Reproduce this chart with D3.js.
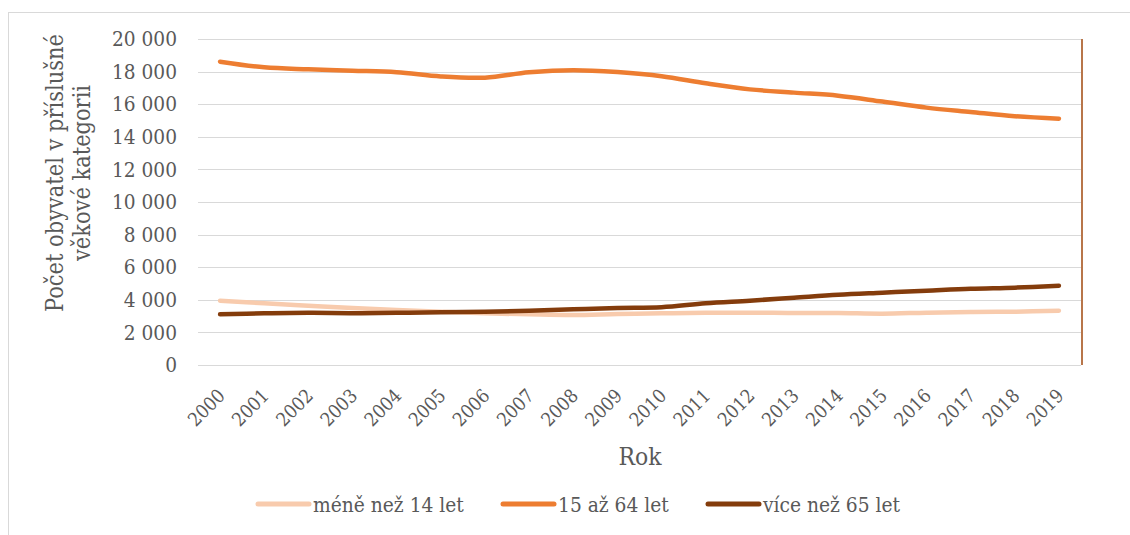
<!DOCTYPE html>
<html>
<head>
<meta charset="utf-8">
<script src="https://cdn.jsdelivr.net/npm/d3@7"></script>
<style>
  body { margin: 0; background: #fff; }
</style>
</head>
<body>
<div id="chart"></div>
<script>
// data
const years = d3.range(2000, 2020).map(String);
const seriesNames = ["méně než 14 let", "15 až 64 let", "více než 65 let"];
const under14 = [3945, 3785, 3640, 3500, 3375, 3270, 3170, 3110, 3070, 3130,
                 3170, 3210, 3210, 3190, 3190, 3150, 3210, 3250, 3270, 3330];
const age15to64 = [18610, 18260, 18140, 18055, 17960, 17700, 17630, 17960, 18090, 17970,
                   17720, 17280, 16910, 16710, 16520, 16160, 15790, 15520, 15260, 15110];
const over65 = [3110, 3170, 3200, 3180, 3200, 3230, 3270, 3330, 3415, 3500,
                3545, 3785, 3945, 4130, 4315, 4440, 4560, 4680, 4745, 4860];
const yTicks = [0, 2000, 4000, 6000, 8000, 10000, 12000, 14000, 16000, 18000, 20000];
const colors = ["#F8CBAD", "#ED7D31", "#843C0C"];

// no Times on the box, so use DejaVu Serif and size it to the reference text widths
const FONT = "'DejaVu Serif Condensed', 'DejaVu Serif', serif";
const TEXT_COLOR = "#595959";

const W = 1130, H = 535;
const margin = { top: 39, right: 49, bottom: 170, left: 198 };
const width = W - margin.left - margin.right;
const height = H - margin.top - margin.bottom;

const root = d3.select("#chart").append("svg")
    .attr("width", W)
    .attr("height", H)
    .style("font-family", FONT);

// font size that gives `sample` the width measured on the reference
function fitSize(sample, target) {
    const t = root.append("text").style("font-size", "20px").text(sample);
    const w = t.node().getComputedTextLength();
    t.remove();
    return (20 * target / w).toFixed(2) + "px";
}
const yTickSize = fitSize("20 000", 65);
const xTickSize = fitSize("2000", 43);
const titleSize = fitSize("Počet obyvatel v příslušné", 278);
const rokSize = fitSize("Rok", 43);
const legendSize = fitSize("méně než 14 let", 151);

// outer chart border
root.append("rect")
    .attr("x", 8.5).attr("y", 12.5)
    .attr("width", W + 20).attr("height", H + 20)
    .attr("fill", "none")
    .attr("stroke", "#d9d9d9");

const svg = root.append("g")
    .attr("transform", `translate(${margin.left},${margin.top})`);

const x = d3.scalePoint().domain(years).range([0, width]).padding(0.5);
const y = d3.scaleLinear().domain([0, 20000]).range([height, 0]);

const fmt = v => d3.format(",")(v).replace(/,/g, " ");

// gridlines
svg.append("g")
    .selectAll("line")
    .data(yTicks)
    .join("line")
    .attr("x1", 0).attr("x2", width)
    .attr("y1", d => Math.round(y(d)) + 0.5)
    .attr("y2", d => Math.round(y(d)) + 0.5)
    .attr("stroke", "#d9d9d9")
    .attr("stroke-width", 1);

// y axis
const yAxis = svg.append("g")
    .call(d3.axisLeft(y).tickValues(yTicks).tickFormat(fmt).tickSize(0).tickPadding(21));
yAxis.select(".domain").remove();
yAxis.attr("font-family", null);
yAxis.selectAll("text").attr("fill", TEXT_COLOR).style("font-size", yTickSize);

// x axis
const xAxis = svg.append("g")
    .attr("transform", `translate(0,${height})`)
    .call(d3.axisBottom(x).tickSize(0));
xAxis.select(".domain").remove();
xAxis.attr("font-family", null);
xAxis.selectAll("text")
    .attr("fill", TEXT_COLOR)
    .style("font-size", xTickSize)
    .attr("text-anchor", "end")
    .attr("dy", 0)
    .attr("y", 0)
    .attr("x", 0)
    .attr("transform", "translate(5.5,32) rotate(-45)");

// right-side vertical axis line
svg.append("line")
    .attr("x1", width + 1).attr("x2", width + 1)
    .attr("y1", 0).attr("y2", height)
    .attr("stroke", "#A0480E")
    .attr("stroke-width", 1.5);

// lines
const line = d3.line()
    .x((d, i) => x(years[i]))
    .y(d => y(d))
    .curve(d3.curveCatmullRom);

[under14, age15to64, over65].forEach((s, i) => {
    svg.append("path")
        .datum(s)
        .attr("fill", "none")
        .attr("stroke", colors[i])
        .attr("stroke-width", 4.5)
        .attr("stroke-linecap", "round")
        .attr("stroke-linejoin", "round")
        .attr("d", line);
});

// axis titles
root.append("text")
    .attr("x", 640).attr("y", 465)
    .attr("text-anchor", "middle")
    .attr("fill", TEXT_COLOR)
    .style("font-size", rokSize)
    .text("Rok");

const yTitle = root.append("text")
    .attr("transform", "translate(63,173) rotate(-90)")
    .attr("text-anchor", "middle")
    .attr("fill", TEXT_COLOR)
    .style("font-size", titleSize);
yTitle.append("tspan").attr("x", 0).attr("y", 0).text("Počet obyvatel v příslušné");
yTitle.append("tspan").attr("x", 0).attr("y", 27).text("věkové kategorii");

// legend
const legendX = [256, 501, 706];
const legend = root.append("g");
seriesNames.forEach((name, i) => {
    const g = legend.append("g").attr("transform", `translate(${legendX[i]},504)`);
    g.append("line")
        .attr("x1", 2).attr("x2", 53)
        .attr("stroke", colors[i])
        .attr("stroke-width", 5)
        .attr("stroke-linecap", "round");
    g.append("text")
        .attr("x", 57).attr("y", 7.5)
        .attr("fill", TEXT_COLOR)
        .style("font-size", legendSize)
        .text(name);
});
</script>
</body>
</html>
